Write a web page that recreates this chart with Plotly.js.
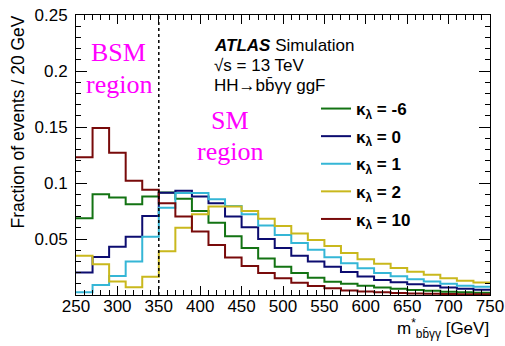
<!DOCTYPE html>
<html>
<head>
<meta charset="utf-8">
<script src="https://cdn.plot.ly/plotly-3.0.1.min.js"></script>
<style>html,body{margin:0;padding:0;background:#fff;}#plot{width:505px;height:346px;}</style>
</head>
<body>
<div id="plot"></div>
<script>
// Bin edges (GeV), 20 GeV bins from 250 to 750
const binEdges = [250,270,290,310,330,350,370,390,410,430,450,470,490,510,530,550,570,590,610,630,650,670,690,710,730,750];

// Fraction of events per bin for each kappa_lambda
const kapM6 = [0.0685,0.090,0.087,0.081,0.088,0.0915,0.086,0.075,0.0646,0.0525,0.042,0.0327,0.0253,0.0197,0.0155,0.0119,0.0100,0.0082,0.0068,0.0055,0.0045,0.0037,0.0030,0.0025,0.0021];
const kap0  = [0.020,0.034,0.043,0.052,0.0705,0.0912,0.093,0.088,0.082,0.070,0.0605,0.050,0.042,0.035,0.030,0.0252,0.0205,0.0165,0.0134,0.0113,0.0096,0.0083,0.0066,0.0055,0.0046];
const kap1  = [0.0024,0.009,0.017,0.030,0.052,0.078,0.091,0.091,0.0855,0.0795,0.072,0.062,0.0535,0.0465,0.0405,0.0338,0.0283,0.0238,0.0197,0.0167,0.0140,0.0120,0.0100,0.0083,0.0074];
const kap2  = [0.035,0.0274,0.012,0.007,0.0164,0.039,0.060,0.072,0.079,0.079,0.075,0.068,0.0616,0.055,0.049,0.0437,0.0375,0.032,0.028,0.024,0.0208,0.018,0.015,0.0128,0.0112];
const kap10 = [0.123,0.149,0.127,0.102,0.094,0.082,0.070,0.0566,0.0446,0.0335,0.0258,0.0197,0.0149,0.011,0.008,0.006,0.0040,0.0031,0.0024,0.0018,0.0014,0.0011,0.0009,0.0007,0.0006];

const seriesNames = ["<b>κ<sub>λ</sub> = -6</b>","<b>κ<sub>λ</sub> = 0</b>","<b>κ<sub>λ</sub> = 1</b>","<b>κ<sub>λ</sub> = 2</b>","<b>κ<sub>λ</sub> = 10</b>"];
const seriesColors = ["#137313","#0c0c70","#35b6d6","#c9b81d","#780a0a"];
const seriesData = [kapM6,kap0,kap1,kap2,kap10];

const xTicks = [250,300,350,400,450,500,550,600,650,700,750];
const yTicks = [0.05,0.1,0.15,0.2,0.25];
const yTickText = ["0.05","0.1","0.15","0.2","0.25"];
const regionBoundary = 350;

const traces = seriesData.map((vals,i)=>({
  type:'scatter', mode:'lines',
  x: binEdges,
  y: vals.concat([vals[vals.length-1]]),
  line:{shape:'hv', color:seriesColors[i], width:2},
  name: seriesNames[i],
  legendgroup: 'g'+i,
  hoverinfo:'skip'
}));

const L=76, R=15, T=15, B=51, W=505, H=346;
const pw=W-L-R, ph=H-T-B;
const px = v => (v-L)/pw;
const py = v => (H-B-v)/ph;

const mag = {family:'Liberation Serif, Times New Roman, serif', size:26, color:'#ff00ff'};
const blk = {family:'Liberation Sans, Arial, sans-serif', size:17, color:'#000'};

const annotations = [
  {text:'BSM', x:px(118), y:py(53), xref:'paper', yref:'paper', showarrow:false, xanchor:'center', yanchor:'middle', font:mag},
  {text:'region', x:px(119), y:py(84), xref:'paper', yref:'paper', showarrow:false, xanchor:'center', yanchor:'middle', font:mag},
  {text:'SM', x:px(230), y:py(120.5), xref:'paper', yref:'paper', showarrow:false, xanchor:'center', yanchor:'middle', font:mag},
  {text:'region', x:px(230), y:py(151.5), xref:'paper', yref:'paper', showarrow:false, xanchor:'center', yanchor:'middle', font:mag},
  {text:'<b><i>ATLAS</i></b> Simulation', x:px(212), y:py(45.5), xref:'paper', yref:'paper', showarrow:false, xanchor:'left', yanchor:'middle', font:blk},
  {text:'√s = 13 TeV', x:px(212), y:py(65), xref:'paper', yref:'paper', showarrow:false, xanchor:'left', yanchor:'middle', font:blk},
  {text:'HH→bb̄γγ ggF', x:px(212), y:py(85), xref:'paper', yref:'paper', showarrow:false, xanchor:'left', yanchor:'middle', font:blk},
  {text:'Fraction of events / 20 GeV', x:px(17), y:py(14), xref:'paper', yref:'paper', showarrow:false, xanchor:'center', yanchor:'top', textangle:-90, font:{family:'Liberation Sans, Arial, sans-serif', size:17.5, color:'#000'}},
  {text:'m<sup>*</sup><sub>bb̄γγ</sub> [GeV]', x:px(491), y:py(328), xref:'paper', yref:'paper', showarrow:false, xanchor:'right', yanchor:'middle', font:{family:'Liberation Sans, Arial, sans-serif', size:17, color:'#000'}}
];

const layout = {
  width:W, height:H,
  margin:{l:L, r:R, t:T, b:B, pad:0},
  paper_bgcolor:'#fff', plot_bgcolor:'#fff',
  font:{family:'Liberation Sans, Arial, sans-serif', size:17, color:'#000'},
  showlegend:true,
  legend:{x:px(316), y:py(91), xanchor:'left', yanchor:'top', bgcolor:'rgba(0,0,0,0)', font:{size:17, family:'Liberation Sans, Arial, sans-serif'}, tracegroupgap:2.5, itemwidth:30},
  xaxis:{range:[250,750], tickvals:xTicks, ticks:'inside', ticklen:9, tickwidth:1, tickcolor:'#000',
    showline:true, linecolor:'#000', linewidth:1, mirror:'allticks', showgrid:false, zeroline:false,
    minor:{dtick:10, ticks:'inside', ticklen:5, tickcolor:'#000', tickwidth:1, showgrid:false},
    tickfont:{size:17}, ticklabelstandoff:-4, fixedrange:true},
  yaxis:{range:[0,0.25], tickvals:yTicks, ticktext:yTickText, ticks:'inside', ticklen:11, tickwidth:1, tickcolor:'#000',
    showline:true, linecolor:'#000', linewidth:1, mirror:'allticks', showgrid:false, zeroline:false,
    minor:{dtick:0.01, ticks:'inside', ticklen:5, tickcolor:'#000', tickwidth:1, showgrid:false},
    tickfont:{size:17}, ticklabelstandoff:4, fixedrange:true},
  shapes:[{type:'line', xref:'x', yref:'y', x0:regionBoundary, x1:regionBoundary, y0:0, y1:0.25, line:{color:'#000', width:1.5, dash:'dot'}}],
  annotations:annotations
};

Plotly.newPlot('plot', traces, layout, {staticPlot:true, displayModeBar:false});
</script>
</body>
</html>
